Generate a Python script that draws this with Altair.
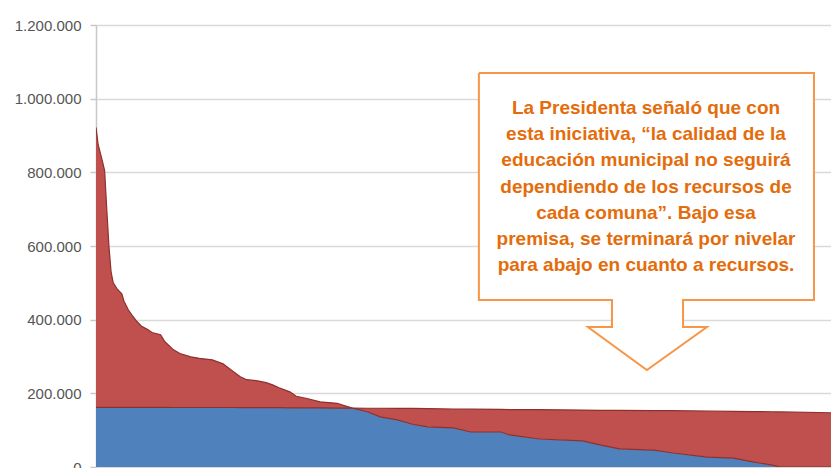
import altair as alt
import pandas as pd

# --- data (comunas sorted by spending) ---
comuna_rank = [0, 1, 3, 4, 5, 6, 7, 8, 10, 12, 13, 15, 17, 19, 21, 24, 26, 30, 32, 36,
               39, 44, 48, 54, 59, 64, 67, 70, 75, 79, 82, 85, 90, 93, 98, 104, 112, 119,
               126, 132, 140, 147, 154, 166, 174, 188, 192, 206, 226, 234, 243, 259, 268,
               284, 296, 305, 314, 318, 345]
gasto = [922000, 875000, 830000, 805000, 700000, 600000, 530000, 500000, 482000, 470000,
         450000, 427000, 410000, 395000, 383000, 373000, 365000, 359000, 340000, 318000,
         308000, 299000, 295000, 291000, 280000, 258000, 245000, 237000, 234000, 229000,
         223000, 215000, 204000, 192000, 186000, 177000, 173000, 160000, 150000, 136000,
         128000, 116000, 109000, 106000, 95000, 95000, 87000, 76000, 71000, 60000,
         49000, 46000, 38000, 27000, 24000, 14000, 5000, 0, 0]
nivel = [162000, 162000, 162000, 162000, 162000, 162000, 162000, 162000, 162000, 162000,
         162000, 162000, 162000, 162000, 162000, 162000, 162000, 162000, 162000, 161500,
         161500, 161500, 161500, 161500, 161500, 161500, 161000, 161000, 161000, 161000,
         161000, 161000, 160500, 160500, 160500, 160500, 160000, 160000, 159500, 159500,
         159000, 159000, 158500, 157500, 157000, 156500, 156000, 155500, 154500, 154000,
         154000, 153000, 153000, 152000, 151000, 150500, 150000, 149500, 147000]

y_ticks = [0, 200000, 400000, 600000, 800000, 1000000, 1200000]
y_tick_labels = ["0", "200.000", "400.000", "600.000", "800.000", "1.000.000", "1.200.000"]

callout_lines = [
    "La Presidenta señaló que con",
    "esta iniciativa, “la calidad de la",
    "educación municipal no seguirá",
    "dependiendo de los recursos de",
    "cada comuna”. Bajo esa",
    "premisa, se terminará por nivelar",
    "para abajo en cuanto a recursos.",
]

# callout geometry in data units (rank, value)
callout_x = [177.8, 333.4, 333.4, 272.6, 272.6, 283.7, 255.8, 228.4, 239.6, 239.6, 177.8, 177.8]
callout_y = [1069700, 1069700, 453400, 453400, 380100, 380100, 263300, 380100, 380100,
             453400, 453400, 1069700]

df = pd.DataFrame({"rank": comuna_rank, "gasto": gasto, "nivel": nivel})
df["lo"] = df[["gasto", "nivel"]].min(axis=1)
df["hi"] = df[["gasto", "nivel"]].max(axis=1)

# visible window of the (cropped) original chart
x_scale = alt.Scale(domain=[0, 341.3], nice=False, zero=False)
y_scale = alt.Scale(domain=[0, 1200000], nice=False)

label_map = "{" + ",".join(f"'{v}':'{l}'" for v, l in zip(y_ticks, y_tick_labels)) + "}[datum.value]"

base = alt.Chart(df)

blue = base.mark_area(color="#4F81BD", interpolate="linear", clip=True).encode(
    x=alt.X("rank:Q", scale=x_scale, axis=None),
    y=alt.Y("lo:Q", scale=y_scale, title=None,
            axis=alt.Axis(values=y_ticks, labelExpr=label_map, grid=True,
                          gridColor="#D9D9D9", gridWidth=1.5,
                          domainColor="#C8C8C8", domainWidth=1.5,
                          tickColor="#C8C8C8", tickSize=6, tickWidth=1.5,
                          labelColor="#555555", labelFontSize=15,
                          labelFont="Liberation Sans", labelPadding=9)),
    y2=alt.datum(0),
)

red = base.mark_area(color="#C0504D", interpolate="linear", clip=True).encode(
    x=alt.X("rank:Q", scale=x_scale),
    y=alt.Y("hi:Q", scale=y_scale),
    y2="lo:Q",
)

line_curve = base.mark_line(color="#8E302D", strokeWidth=1.2, clip=True).encode(
    x=alt.X("rank:Q", scale=x_scale),
    y=alt.Y("gasto:Q", scale=y_scale),
)
line_level = base.mark_line(color="#8E302D", strokeWidth=1.2, clip=True).encode(
    x=alt.X("rank:Q", scale=x_scale),
    y=alt.Y("nivel:Q", scale=y_scale),
)

# callout
box_df = pd.DataFrame({
    "x": [callout_x[0], callout_x[8]],
    "x2": [callout_x[1], callout_x[3]],
    "y": [callout_y[0], callout_y[3]],
    "y2": [callout_y[2], callout_y[4]],
})
box_fill = alt.Chart(box_df).mark_rect(color="white").encode(
    x=alt.X("x:Q", scale=x_scale), x2="x2:Q",
    y=alt.Y("y:Q", scale=y_scale), y2="y2:Q",
)
outline_df = pd.DataFrame({"x": callout_x, "y": callout_y, "o": list(range(len(callout_x)))})
outline = alt.Chart(outline_df).mark_line(color="#F79646", strokeWidth=2, strokeJoin="miter").encode(
    x=alt.X("x:Q", scale=x_scale),
    y=alt.Y("y:Q", scale=y_scale),
    order="o:Q",
)
text_df = pd.DataFrame({"x": [255.4], "y": [974700]})
text = alt.Chart(text_df).mark_text(
    text=callout_lines, align="center", baseline="middle", lineHeight=26.2,
    font="Liberation Sans", fontWeight="bold", fontSize=19, color="#E46C0A",
).encode(
    x=alt.X("x:Q", scale=x_scale),
    y=alt.Y("y:Q", scale=y_scale),
)

chart = alt.layer(blue, red, line_curve, line_level, box_fill, outline, text).properties(
    width=735, height=442,
    autosize=alt.AutoSizeParams(type="none"),
    padding={"left": 88, "top": 17, "right": 0, "bottom": 12},
).configure_view(stroke=None).configure(background="white")

chart.save("out.html", embed_options={"renderer": "svg", "actions": False})
